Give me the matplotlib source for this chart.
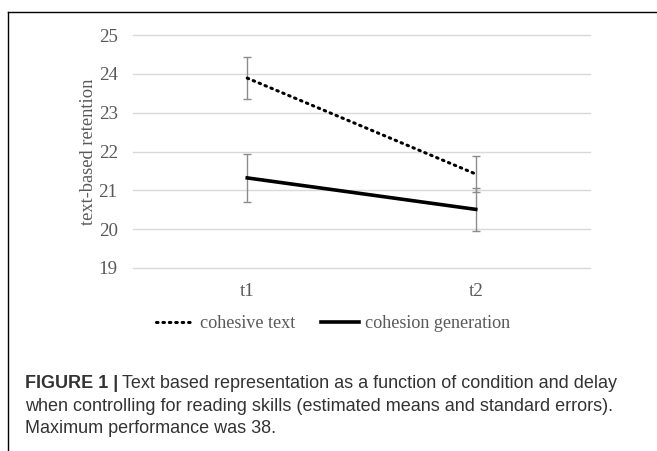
import matplotlib
matplotlib.use("Agg")
import matplotlib.pyplot as plt
from matplotlib.lines import Line2D

# data
categories = ["t1", "t2"]
cohesive_text = [23.89, 21.42]
cohesive_text_se = [0.55, 0.46]
cohesion_generation = [21.32, 20.51]
cohesion_generation_se = [0.62, 0.55]
y_ticks = [19, 20, 21, 22, 23, 24, 25]

W, H = 657, 451
_GREY_TXT = "#595959"
_GRID = "#d9d9d9"
_ERR = "#8c8c8c"
_CAPTION = "#333333"
SERIF = ["Liberation Serif", "DejaVu Serif"]
SANS = ["Liberation Sans", "DejaVu Sans"]

fig = plt.figure(figsize=(W / 100, H / 100), dpi=100)
ax = fig.add_axes([133 / W, (H - 268) / H, 457 / W, 233 / H])

x = list(range(len(categories)))
ax.errorbar(x, cohesive_text, yerr=cohesive_text_se, fmt="none",
            ecolor=_ERR, elinewidth=1.0, capsize=2.8, capthick=1.0, zorder=2)
ax.errorbar(x, cohesion_generation, yerr=cohesion_generation_se, fmt="none",
            ecolor=_ERR, elinewidth=1.0, capsize=2.8, capthick=1.0, zorder=2)
ax.plot(x, cohesive_text, color="black", linewidth=2.2, linestyle=(0, (0.5, 1.6)),
        dash_capstyle="round", label="cohesive text", zorder=3)
ax.plot(x, cohesion_generation, color="black", linewidth=2.6,
        label="cohesion generation", zorder=3)

ax.set_xlim(-0.5, 1.5)
ax.set_ylim(19, 25)
ax.set_yticks(y_ticks)
ax.set_xticks(x)
ax.set_xticklabels(categories)
ax.yaxis.grid(True, color=_GRID, linewidth=1.0)
for gl in ax.get_ygridlines():
    gl.set_clip_on(False)
ax.set_axisbelow(True)
for spine in ax.spines.values():
    spine.set_visible(False)
ax.tick_params(length=0, labelsize=13.6, labelcolor=_GREY_TXT)
ax.tick_params(axis="y", pad=11)
ax.tick_params(axis="x", pad=11)
for lbl in ax.get_xticklabels() + ax.get_yticklabels():
    lbl.set_fontfamily(SERIF)
ax.set_ylabel("text-based retention", fontsize=13.3, color=_GREY_TXT,
              fontfamily=SERIF, labelpad=1.5)

fig.legend(loc="center", bbox_to_anchor=(333 / W, (H - 324) / H), ncol=2,
           frameon=False, prop={"family": SERIF, "size": 13.1},
           handlelength=2.1, handletextpad=0.3, columnspacing=1.45,
           labelcolor=_GREY_TXT, borderaxespad=0, borderpad=0)

# frame around the figure panel
fig.add_artist(Line2D([8 / W, 8 / W], [0, (H - 12) / H], transform=fig.transFigure,
                      color="black", linewidth=1.0))
fig.add_artist(Line2D([8 / W, 1], [(H - 12) / H, (H - 12) / H], transform=fig.transFigure,
                      color="black", linewidth=1.0))

# caption
cap_x = 25 / W
bold = fig.text(cap_x, (H - 388) / H, "FIGURE 1 |", fontsize=13, fontweight="bold",
                family=SANS, va="baseline", color=_CAPTION)
fig.canvas.draw()
bb = bold.get_window_extent(fig.canvas.get_renderer())
fig.text(bb.x1 / W + 4 / W, (H - 388) / H,
         "Text based representation as a function of condition and delay",
         fontsize=13, family=SANS, va="baseline", color=_CAPTION)
fig.text(cap_x, (H - 411) / H,
         "when controlling for reading skills (estimated means and standard errors).",
         fontsize=13, family=SANS, va="baseline", color=_CAPTION)
fig.text(cap_x, (H - 433) / H, "Maximum performance was 38.",
         fontsize=13, family=SANS, va="baseline", color=_CAPTION)

fig.savefig("out.png", dpi=100)
